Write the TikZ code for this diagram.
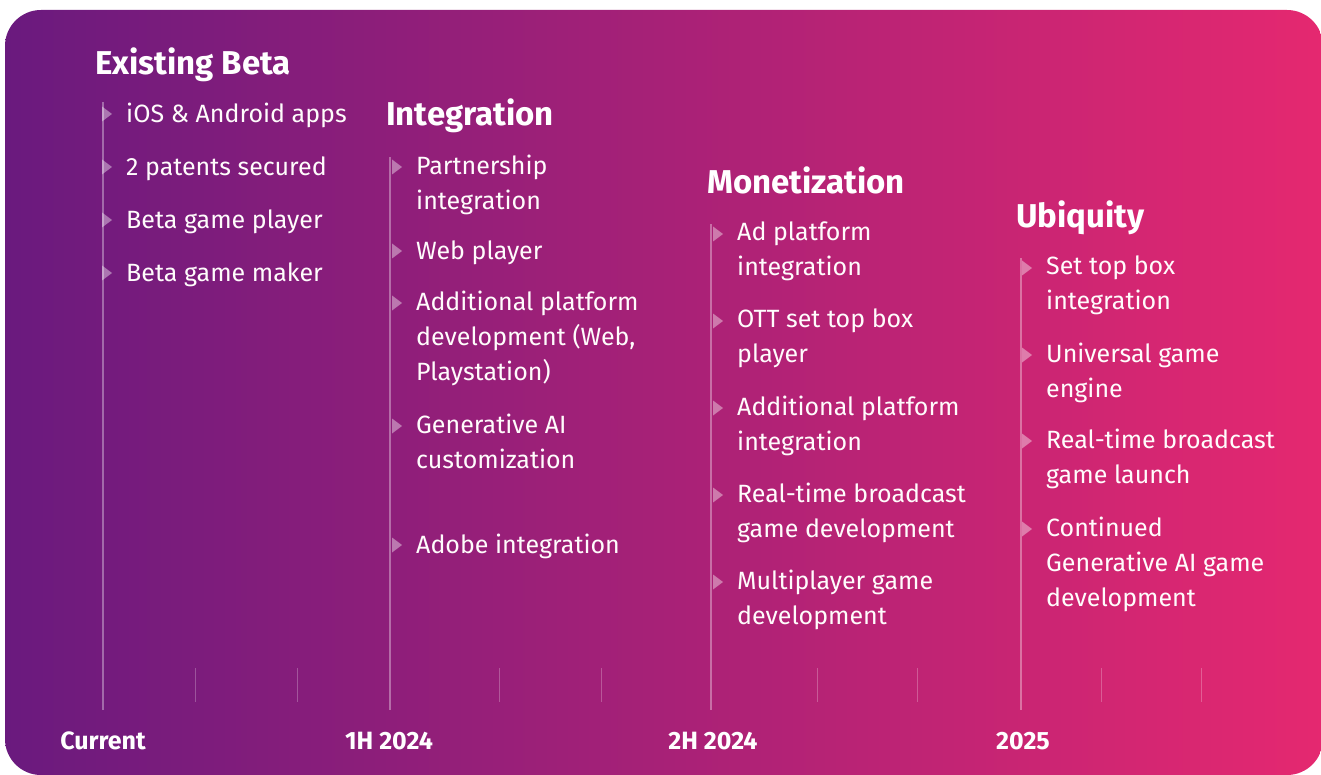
\documentclass[tikz,border=0pt]{standalone}
\usepackage{fontspec}
\setmainfont{Fira Sans}
\definecolor{plum}{RGB}{106,26,126}
\definecolor{berry}{RGB}{168,31,128}
\definecolor{rose}{RGB}{229,40,112}
\begin{document}
\begin{tikzpicture}[
	x=1pt,y=-1pt,
	hd/.style={anchor=base west,inner sep=0pt,text=white,font=\fontsize{33}{40}\selectfont\bfseries},
	it/.style={anchor=north west,yshift=20pt,inner sep=0pt,text=white!96!pink,align=left,
		font=\fontsize{25}{35}\selectfont,execute at begin node={\rule{0pt}{20pt}}},
	dt/.style={anchor=base,inner sep=0pt,text=white,font=\fontsize{25}{30}\selectfont\bfseries},
	tl/.style={draw=white,draw opacity=0.35,line width=1.2pt},
	tk/.style={draw=white,draw opacity=0.25,line width=1pt},
	bl/.style={fill=white,fill opacity=0.4},
	]
\useasboundingbox (0,0) rectangle (1321,775);
\clip (0,0) rectangle (1321,775);
\shade[left color=plum,middle color=berry,right color=rose,rounded corners=36] (5,10) rectangle (1323,775);

\foreach \n/\x/\t in {a/103/102,b/390/157,c/711/224,d/1021/258} {
	\coordinate (\n top) at (\x,\t);
	\coordinate (\n bot) at (\x,710);
	\draw[tl] (\n top) -- (\n bot);
}
\foreach \x [count=\i] in {195,297,499,601,817,917,1101,1201} {
	\coordinate (k\i) at (\x,668);
	\draw[tk] (k\i) -- ++(0,34);
}

\node[hd] (beta) at (95,75) {Existing Beta};
\node[it] (a1) at (126,122) {iOS \& Android apps};
\node[it] (a2) at (126,175) {2 patents secured};
\node[it] (a3) at (126,228) {Beta game player};
\node[it] (a4) at (126,281) {Beta game maker};

\node[hd] (integ) at (386,126) {Integration};
\node[it] (b1) at (416,175) {Partnership\\integration};
\node[it] (b2) at (416,259) {Web player};
\node[it] (b3) at (416,311) {Additional platform\\development (Web,\\Playstation)};
\node[it] (b4) at (416,434) {Generative AI\\customization};
\node[it] (b5) at (416,553) {Adobe integration};

\node[hd] (monet) at (707,194) {Monetization};
\node[it] (c1) at (737,242) {Ad platform\\integration};
\node[it] (c2) at (737,329) {OTT set top box\\player};
\node[it] (c3) at (737,416) {Additional platform\\integration};
\node[it] (c4) at (737,503) {Real-time broadcast\\game development};
\node[it] (c5) at (737,590) {Multiplayer game\\development};

\node[hd] (ubiq) at (1016,228) {Ubiquity};
\node[it] (d1) at (1046,276) {Set top box\\integration};
\node[it] (d2) at (1046,363) {Universal game\\engine};
\node[it] (d3) at (1046,449) {Real-time broadcast\\game launch};
\node[it] (d4) at (1046,537) {Continued\\Generative AI game\\development};

\foreach \n in {a1,a2,a3,a4,b1,b2,b3,b4,b5,c1,c2,c3,c4,c5,d1,d2,d3,d4}
	\fill[bl] ([xshift=-24pt,yshift=-4.5pt]\n.north west) -- ++(10,7.5) -- ++(-10,7.5) -- cycle;

\node[dt] (now) at (103,749) {Current};
\node[dt] (h1) at (389,749) {1H 2024};
\node[dt] (h2) at (713,749) {2H 2024};
\node[dt] (y25) at (1023,749) {2025};
\end{tikzpicture}
\end{document}
